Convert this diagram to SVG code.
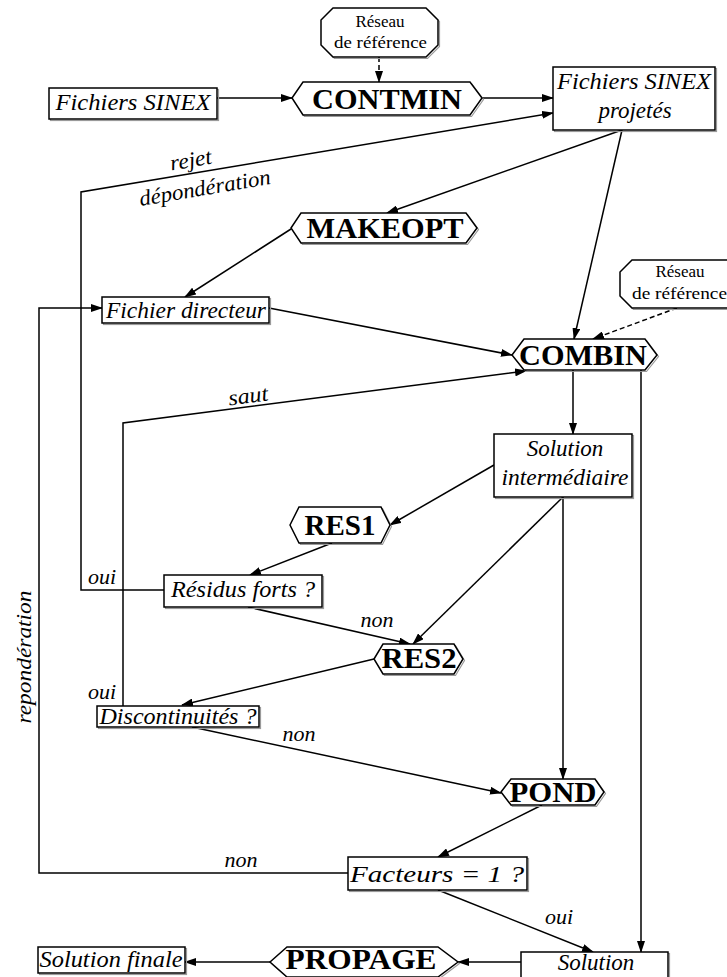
<svg xmlns="http://www.w3.org/2000/svg" width="727" height="977" viewBox="0 0 727 977">
<style>
.sh{fill:none;stroke:#9a9a9a;stroke-width:1.2}
.nd{fill:#fff;stroke:#000;stroke-width:1.5}
.ln{fill:none;stroke:#000;stroke-width:1.5}
.ds{fill:none;stroke:#000;stroke-width:1.5;stroke-dasharray:5,3}
text{font-family:'Liberation Serif','Times New Roman',Times,'Nimbus Roman',serif;fill:#000;text-anchor:middle}
.it{font-style:italic;font-size:23px}
.lb{font-style:italic;font-size:22px}
.bd{font-weight:bold;font-size:30px}
.rm{font-size:17px}
.st{text-anchor:start}
</style>
<defs>
<marker id="ah" markerUnits="userSpaceOnUse" markerWidth="12" markerHeight="8" refX="11" refY="4" orient="auto">
<path d="M0,0 L12,4 L0,8 z" fill="#000"/>
</marker>
</defs>
<rect width="727" height="977" fill="#fff"/>

<g id="connectors">
<line class="ds" x1="379" y1="57" x2="379" y2="82" marker-end="url(#ah)"/>
<line class="ln" x1="217" y1="98" x2="292" y2="98" marker-end="url(#ah)"/>
<line class="ln" x1="482" y1="98" x2="553" y2="98" marker-end="url(#ah)"/>
<polyline class="ln" points="164,590 81,590 81,192 553,113" marker-end="url(#ah)"/>
<line class="ln" x1="622" y1="130" x2="387" y2="213" marker-end="url(#ah)"/>
<line class="ln" x1="622" y1="130" x2="574" y2="339" marker-end="url(#ah)"/>
<line class="ln" x1="291" y1="229" x2="185" y2="297" marker-end="url(#ah)"/>
<line class="ln" x1="269" y1="308" x2="512" y2="355" marker-end="url(#ah)"/>
<polyline class="ln" points="348,873 39,873 39,308 102,308" marker-end="url(#ah)"/>
<line class="ds" x1="677" y1="308" x2="593" y2="339" marker-end="url(#ah)"/>
<line class="ln" x1="573" y1="370" x2="573" y2="434" marker-end="url(#ah)"/>
<line class="ln" x1="641" y1="370" x2="641" y2="952" marker-end="url(#ah)"/>
<polyline class="ln" points="123,706 123,423 526,371" marker-end="url(#ah)"/>
<line class="ln" x1="494" y1="465" x2="390" y2="525" marker-end="url(#ah)"/>
<line class="ln" x1="563" y1="497" x2="413" y2="644" marker-end="url(#ah)"/>
<line class="ln" x1="563" y1="497" x2="563" y2="779" marker-end="url(#ah)"/>
<line class="ln" x1="332" y1="543" x2="250" y2="575" marker-end="url(#ah)"/>
<line class="ln" x1="248" y1="607" x2="410" y2="644" marker-end="url(#ah)"/>
<line class="ln" x1="374" y1="659" x2="182" y2="705" marker-end="url(#ah)"/>
<line class="ln" x1="192" y1="727" x2="501" y2="793" marker-end="url(#ah)"/>
<line class="ln" x1="542" y1="805" x2="438" y2="857" marker-end="url(#ah)"/>
<line class="ln" x1="438" y1="890" x2="593" y2="952" marker-end="url(#ah)"/>
<line class="ln" x1="521" y1="962" x2="458" y2="962" marker-end="url(#ah)"/>
<line class="ln" x1="270" y1="962" x2="185" y2="962" marker-end="url(#ah)"/>
<text class="lb" transform="translate(192,167) rotate(-9.6)" textLength="42" lengthAdjust="spacingAndGlyphs">rejet</text>
<text class="lb" transform="translate(206,195) rotate(-9.6)" textLength="133" lengthAdjust="spacingAndGlyphs">dépondération</text>
<text class="lb" transform="translate(249,403) rotate(-7.3)" textLength="40" lengthAdjust="spacingAndGlyphs">saut</text>
<text class="lb" x="102" y="584">oui</text>
<text class="lb" x="102" y="699">oui</text>
<text class="lb" x="377" y="627">non</text>
<text class="lb" x="299" y="741">non</text>
<text class="lb" x="241" y="867">non</text>
<text class="lb" x="559" y="924">oui</text>
<text class="lb" transform="translate(31,657) rotate(-90)" textLength="133" lengthAdjust="spacingAndGlyphs">repondération</text>
</g>

<g id="reseau1">
<path class="sh" d="M334.5,9.5 L427.5,9.5 L439.5,21.5 L439.5,46.5 L427.5,58.5 L334.5,58.5 L322.5,46.5 L322.5,21.5 z"/>
<path class="nd" d="M333,8 L426,8 L438,20 L438,45 L426,57 L333,57 L321,45 L321,20 z"/>
<text class="rm" x="380" y="27">Réseau</text>
<text class="rm" x="380.5" y="48" textLength="93" lengthAdjust="spacingAndGlyphs">de référence</text>
</g>

<g id="sinex">
<rect class="sh" x="50.5" y="89.5" width="168" height="31"/>
<rect class="nd" x="49" y="88" width="168" height="31"/>
<text class="it" x="133" y="110" textLength="155" lengthAdjust="spacingAndGlyphs">Fichiers SINEX</text>
</g>

<g id="contmin">
<path class="sh" d="M293.5,99.5 L304.5,83.5 L471.5,83.5 L483.5,99.5 L471.5,116.5 L304.5,116.5 z"/>
<path class="nd" d="M292,98 L303,82 L470,82 L482,98 L470,115 L303,115 z"/>
<text class="bd" x="387" y="109" textLength="150" lengthAdjust="spacingAndGlyphs">CONTMIN</text>
</g>

<g id="projetes">
<rect class="sh" x="554.5" y="68.5" width="162" height="63"/>
<rect class="nd" x="553" y="67" width="162" height="63"/>
<text class="it" x="634" y="89" textLength="154" lengthAdjust="spacingAndGlyphs">Fichiers SINEX</text>
<text class="it" x="635" y="118">projetés</text>
</g>

<g id="makeopt">
<path class="sh" d="M292.5,229.5 L302.5,214.5 L467.5,214.5 L478.5,229.5 L467.5,244.5 L302.5,244.5 z"/>
<path class="nd" d="M291,228 L301,213 L466,213 L477,228 L466,243 L301,243 z"/>
<text class="bd" x="385" y="238" textLength="157" lengthAdjust="spacingAndGlyphs">MAKEOPT</text>
</g>

<g id="directeur">
<rect class="sh" x="103.5" y="298.5" width="167" height="26"/>
<rect class="nd" x="102" y="297" width="167" height="26"/>
<text class="it" x="186" y="318" textLength="160" lengthAdjust="spacingAndGlyphs">Fichier directeur</text>
</g>

<g id="reseau2">
<path class="sh" d="M633.5,261.5 L741.5,261.5 L753.5,273.5 L753.5,297.5 L741.5,309.5 L633.5,309.5 L621.5,297.5 L621.5,273.5 z"/>
<path class="nd" d="M632,260 L740,260 L752,272 L752,296 L740,308 L632,308 L620,296 L620,272 z"/>
<text class="rm" x="680" y="277">Réseau</text>
<text class="rm st" x="632" y="299" textLength="95" lengthAdjust="spacingAndGlyphs">de référence</text>
</g>

<g id="combin">
<path class="sh" d="M513.5,356.5 L525.5,340.5 L646.5,340.5 L658.5,356.5 L646.5,371.5 L525.5,371.5 z"/>
<path class="nd" d="M512,355 L524,339 L645,339 L657,355 L645,370 L524,370 z"/>
<text class="bd" x="583" y="365" textLength="128" lengthAdjust="spacingAndGlyphs">COMBIN</text>
</g>

<g id="intermediaire">
<rect class="sh" x="495.5" y="435.5" width="138" height="63"/>
<rect class="nd" x="494" y="434" width="138" height="63"/>
<text class="it" x="565" y="456">Solution</text>
<text class="it" x="565" y="485" textLength="127" lengthAdjust="spacingAndGlyphs">intermédiaire</text>
</g>

<g id="res1">
<path class="sh" d="M291.5,526.5 L300.5,508.5 L382.5,508.5 L391.5,526.5 L382.5,544.5 L300.5,544.5 z"/>
<path class="nd" d="M290,525 L299,507 L381,507 L390,525 L381,543 L299,543 z"/>
<text class="bd" x="340" y="535" textLength="71" lengthAdjust="spacingAndGlyphs">RES1</text>
</g>

<g id="residus">
<rect class="sh" x="165.5" y="576.5" width="158" height="32"/>
<rect class="nd" x="164" y="575" width="158" height="32"/>
<text class="it" x="243" y="597" textLength="144" lengthAdjust="spacingAndGlyphs">Résidus forts ?</text>
</g>

<g id="res2">
<path class="sh" d="M375.5,660.5 L384.5,645.5 L455.5,645.5 L464.5,660.5 L455.5,675.5 L384.5,675.5 z"/>
<path class="nd" d="M374,659 L383,644 L454,644 L463,659 L454,674 L383,674 z"/>
<text class="bd" x="419" y="668" textLength="75" lengthAdjust="spacingAndGlyphs">RES2</text>
</g>

<g id="discont">
<rect class="sh" x="98.5" y="707.5" width="162" height="21"/>
<rect class="nd" x="97" y="706" width="162" height="21"/>
<text class="it" x="178" y="724" textLength="157" lengthAdjust="spacingAndGlyphs">Discontinuités ?</text>
</g>

<g id="pond">
<path class="sh" d="M502.5,793.5 L512.5,780.5 L596.5,780.5 L605.5,793.5 L596.5,806.5 L512.5,806.5 z"/>
<path class="nd" d="M501,792 L511,779 L595,779 L604,792 L595,805 L511,805 z"/>
<text class="bd" x="553" y="802" textLength="87" lengthAdjust="spacingAndGlyphs">POND</text>
</g>

<g id="facteurs">
<rect class="sh" x="349.5" y="858.5" width="179" height="33"/>
<rect class="nd" x="348" y="857" width="179" height="33"/>
<text class="it" x="437" y="882" textLength="174" lengthAdjust="spacingAndGlyphs">Facteurs = 1 ?</text>
</g>

<g id="solution">
<rect class="sh" x="522.5" y="953.5" width="147" height="40"/>
<rect class="nd" x="521" y="952" width="147" height="40"/>
<text class="it" x="596" y="970">Solution</text>
</g>

<g id="propage">
<path class="sh" d="M271.5,963.5 L288.5,948.5 L439.5,948.5 L459.5,963.5 L439.5,978.5 L288.5,978.5 z"/>
<path class="nd" d="M270,962 L287,947 L438,947 L458,962 L438,977 L287,977 z"/>
<text class="bd" x="361" y="969" textLength="151" lengthAdjust="spacingAndGlyphs">PROPAGE</text>
</g>

<g id="finale">
<rect class="sh" x="39.5" y="948.5" width="147" height="26"/>
<rect class="nd" x="38" y="947" width="147" height="26"/>
<text class="it" x="111" y="967" textLength="143" lengthAdjust="spacingAndGlyphs">Solution finale</text>
</g>
</svg>
